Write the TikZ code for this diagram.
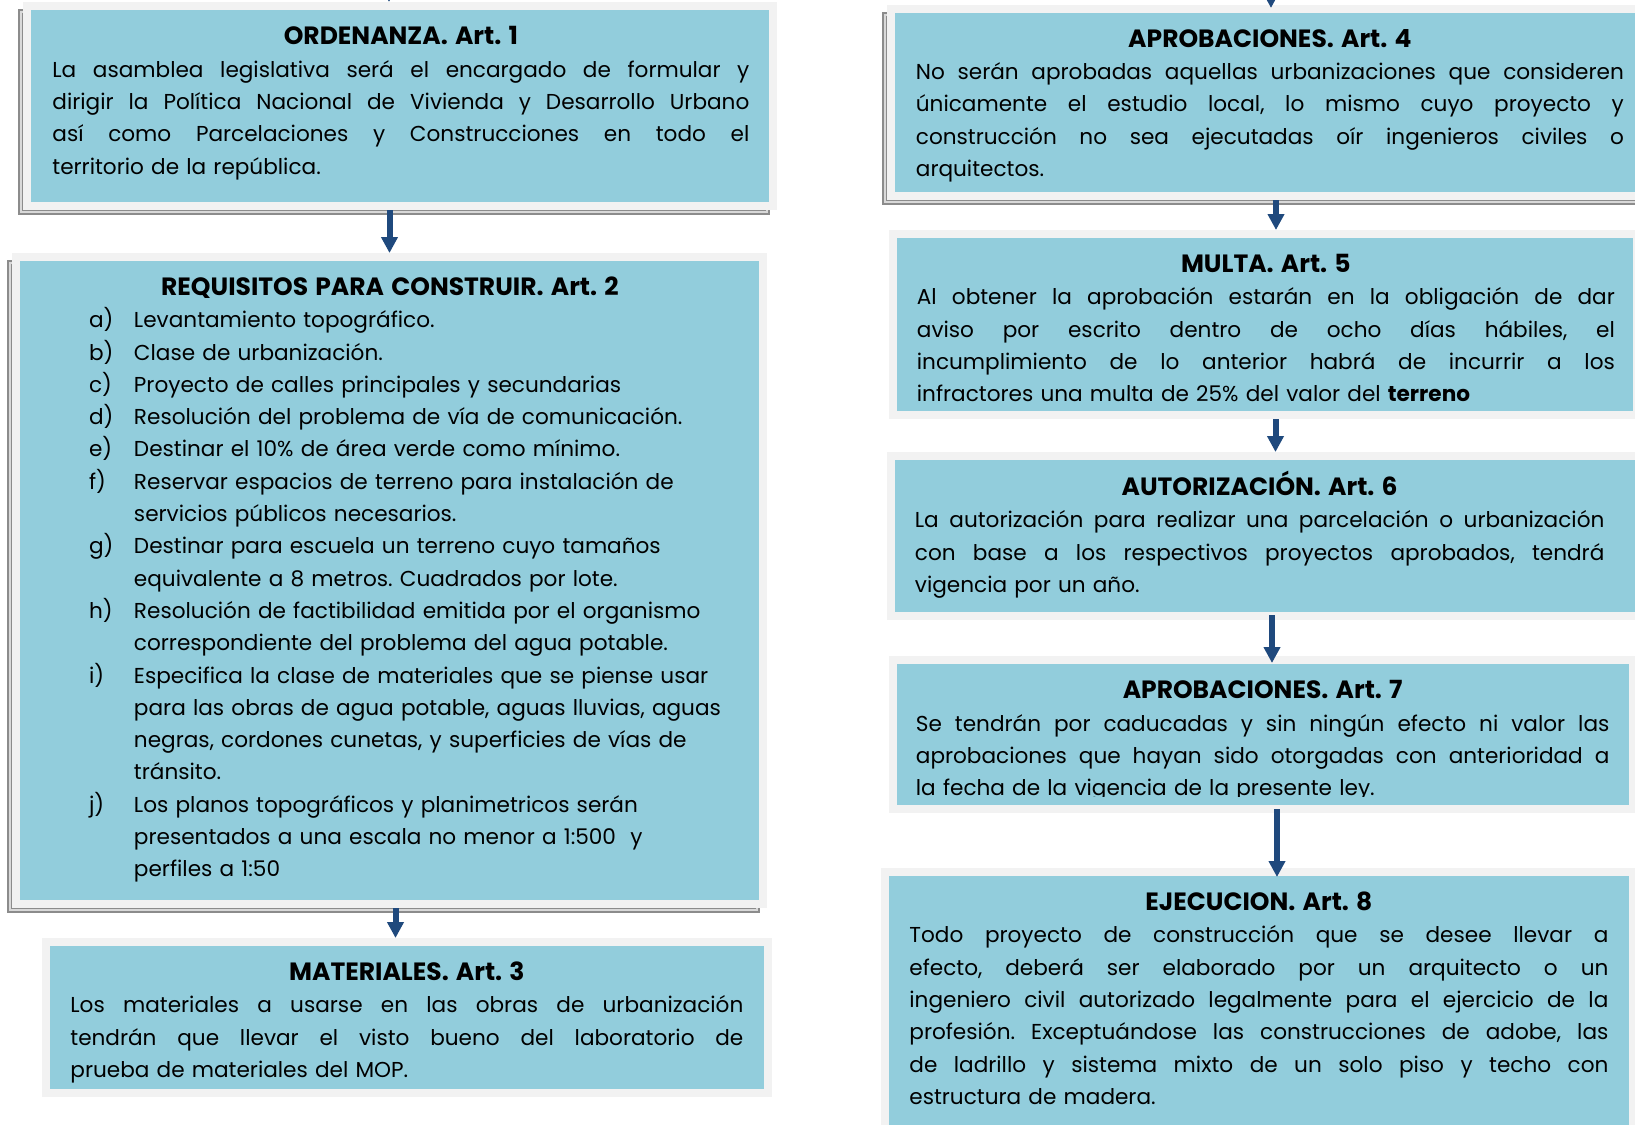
\documentclass[tikz,border=0pt]{standalone}
\usepackage{fontspec}
\setmainfont{Poppins}
\usetikzlibrary{arrows.meta}

\definecolor{boxblue}{HTML}{92CDDC}
\definecolor{framegray}{HTML}{F2F2F2}
\definecolor{shadowdark}{HTML}{8C8C8C}
\definecolor{shadowlight}{HTML}{D9D9D9}
\definecolor{arrowblue}{HTML}{1F497D}
\setlength{\parindent}{0pt}
\frenchspacing

\newcommand{\bodyfont}{\fontsize{10.8}{16.15}\selectfont}
\newcommand{\titlefont}{\fontsize{12.5}{16.15}\selectfont\bfseries}
\newcommand{\ttl}[1]{\makebox[\hsize]{\rule{0pt}{14pt}\titlefont #1}}
\newcommand{\jl}[1]{\makebox[\hsize][s]{\spaceskip=0pt\xspaceskip=0pt #1}}
\newcommand{\listline}[2]{\makebox[\hsize][l]{\makebox[22.5pt][l]{#1}#2}}
\newcommand{\contline}[1]{\makebox[\hsize][l]{\hspace*{22.5pt}#1}}

\begin{document}
\begin{tikzpicture}[x=0.5pt, y=-0.5pt,
    box/.style={rectangle, fill=boxblue, draw=framegray, line width=4pt, inner sep=0pt, anchor=north west},
    shadowed/.style={preaction={draw=shadowdark, line width=1pt, double=shadowlight, double distance=0.8pt,
        transform canvas={shift={(-3pt,-3pt)}}}},
    txt/.style={anchor=north west, inner sep=0pt, align=left, font=\bodyfont},
    flow/.style={draw=arrowblue, line width=3pt, -{Triangle[width=8pt,length=8pt]}}]
    \useasboundingbox (0,0) rectangle (1635,1125);

    \node[box, shadowed, minimum width=373pt, minimum height=100pt] (b1) at (23,2) {};
    \node[box, shadowed, minimum width=373.5pt, minimum height=323.5pt] (b2) at (12,253) {};
    \node[box, minimum width=361pt, minimum height=75.5pt] (b3) at (42,938) {};
    \node[box, shadowed, minimum width=379pt, minimum height=93.5pt] (b4) at (887,5) {};
    \node[box, minimum width=372pt, minimum height=90.5pt] (b5) at (889,230) {};
    \node[box, minimum width=379pt, minimum height=80pt] (b6) at (887,452) {};
    \node[box, minimum width=370pt, minimum height=74.5pt] (b7) at (889,656) {};
    \node[box, minimum width=374pt, minimum height=146pt] (b8) at (881,868) {};

    \coordinate (in1) at (389,-40);
    \coordinate (in4) at (1271,-40);
    \draw[flow] (in1) -- (in1 |- b1.north);
    \draw[flow] (b2.north |- b1.south) -- (b2.north);
    \draw[flow] ([xshift=3pt]b2.south) -- ([xshift=3pt]b2.south |- b3.north);
    \draw[flow, shorten >=-1.5pt] (in4) -- (in4 |- b4.north);
    \draw[flow] ([xshift=3pt]b4.south) -- ([xshift=3pt]b4.south |- b5.north);
    \draw[flow] ([xshift=5.25pt]b5.south) -- ([xshift=5.25pt]b5.south |- b6.north);
    \draw[flow, shorten >=-3.5pt] ([xshift=1pt,yshift=2.5pt]b6.south) -- ([xshift=1pt]b6.south |- b7.north);
    \draw[flow, shorten >=-4.5pt] ([xshift=7pt,yshift=2pt]b7.south) -- ([xshift=7pt]b7.south |- b8.north);

    \node[txt, text width=348.5pt] (t1) at (52,16.5) {\ttl{ORDENANZA. Art. 1}\\
        \jl{La asamblea legislativa será el encargado de formular y}\\
        \jl{dirigir la Política Nacional de Vivienda y Desarrollo Urbano}\\
        \jl{así como Parcelaciones y Construcciones en todo el}\\
        territorio de la república.};
    \node[txt, text width=300.9pt] (t2) at (88.6,267) {\ttl{REQUISITOS PARA CONSTRUIR. Art. 2}\\
        \listline{a)}{Levantamiento topográfico.}\\
        \listline{b)}{Clase de urbanización.}\\
        \listline{c)}{Proyecto de calles principales y secundarias}\\
        \listline{d)}{Resolución del problema de vía de comunicación.}\\
        \listline{e)}{Destinar el 10\% de área verde como mínimo.}\\
        \listline{f)}{Reservar espacios de terreno para instalación de}\\
        \contline{servicios públicos necesarios.}\\
        \listline{g)}{Destinar para escuela un terreno cuyo tamaños}\\
        \contline{equivalente a 8 metros. Cuadrados por lote.}\\
        \listline{h)}{Resolución de factibilidad emitida por el organismo}\\
        \contline{correspondiente del problema del agua potable.}\\
        \listline{i)}{Especifica la clase de materiales que se piense usar}\\
        \contline{para las obras de agua potable, aguas lluvias, aguas}\\
        \contline{negras, cordones cunetas, y superficies de vías de}\\
        \contline{tránsito.}\\
        \listline{j)}{Los planos topográficos y planimetricos serán}\\
        \contline{presentados a una escala no menor a 1:500 \ y}\\
        \contline{perfiles a 1:50}};
    \node[txt, text width=336.5pt] (t3) at (70,952) {\ttl{MATERIALES. Art. 3}\\
        \jl{Los materiales a usarse en las obras de urbanización}\\
        \jl{tendrán que llevar el visto bueno del laboratorio de}\\
        prueba de materiales del MOP.};
    \node[txt, text width=354pt] (t4) at (915.5,18.8) {\ttl{APROBACIONES. Art. 4}\\
        \jl{No serán aprobadas aquellas urbanizaciones que consideren}\\
        \jl{únicamente el estudio local, lo mismo cuyo proyecto y}\\
        \jl{construcción no sea ejecutadas oír ingenieros civiles o}\\
        arquitectos.};
    \node[txt, text width=349pt] (t5) at (916.5,244) {\ttl{MULTA. Art. 5}\\
        \jl{Al obtener la aprobación estarán en la obligación de dar}\\
        \jl{aviso por escrito dentro de ocho días hábiles, el}\\
        \jl{incumplimiento de lo anterior habrá de incurrir a los}\\
        infractores una multa de 25\% del valor del \textbf{terreno}};
    \node[txt, text width=344.75pt] (t6) at (914.5,467.2) {\ttl{AUTORIZACIÓN. Art. 6}\\
        \jl{La autorización para realizar una parcelación o urbanización}\\
        \jl{con base a los respectivos proyectos aprobados, tendrá}\\
        vigencia por un año.};
    \begin{scope}
        \clip (889,656) rectangle (1640,796);
        \node[txt, text width=346.75pt] (t7) at (915.5,670.5) {\ttl{APROBACIONES. Art. 7}\\
            \jl{Se tendrán por caducadas y sin ningún efecto ni valor las}\\
            \jl{aprobaciones que hayan sido otorgadas con anterioridad a}\\
            la fecha de la vigencia de la presente ley.};
    \end{scope}
    \node[txt, text width=349.5pt] (t8) at (909,882.2) {\ttl{EJECUCION. Art. 8}\\
        \jl{Todo proyecto de construcción que se desee llevar a}\\
        \jl{efecto, deberá ser elaborado por un arquitecto o un}\\
        \jl{ingeniero civil autorizado legalmente para el ejercicio de la}\\
        \jl{profesión. Exceptuándose las construcciones de adobe, las}\\
        \jl{de ladrillo y sistema mixto de un solo piso y techo con}\\
        estructura de madera.};
\end{tikzpicture}
\end{document}
